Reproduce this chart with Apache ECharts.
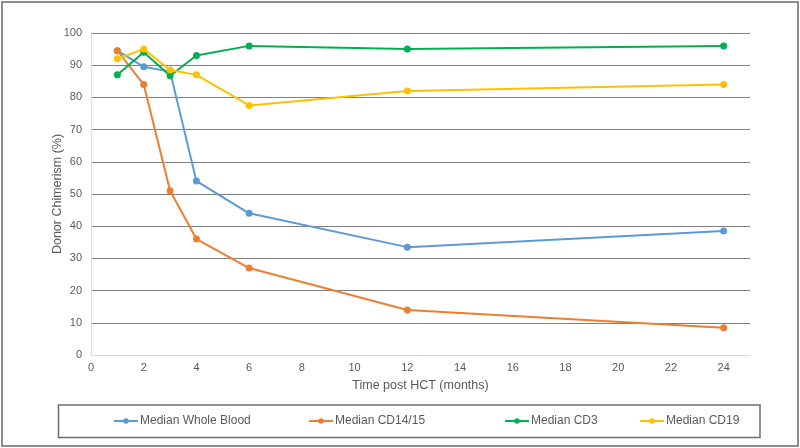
<!DOCTYPE html>
<html>
<head>
<meta charset="utf-8">
<script src="https://cdn.jsdelivr.net/npm/echarts@6/dist/echarts.min.js"></script>
<style>html,body{margin:0;padding:0;background:#fff}#c{width:800px;height:448px}</style>
</head>
<body>
<div id="c"></div>
<script>
const months = [1, 2, 3, 4, 6, 12, 24];
const seriesNames = ['Median Whole Blood', 'Median CD14/15', 'Median CD3', 'Median CD19'];
const wholeBlood = [94.5, 89.5, 88, 54, 44, 33.5, 38.5];
const cd1415 = [94.5, 84, 51, 36, 27, 14, 8.5];
const cd3 = [87, 94, 86.7, 93, 96, 95, 96];
const cd19 = [92, 95, 88.5, 87, 77.5, 82, 84];
const colors = ['#5B9BD5', '#ED7D31', '#00B050', '#FFC000'];
const legendLefts = [113, 308, 504, 639];

const allValues = [wholeBlood, cd1415, cd3, cd19];
const font = 'Liberation Sans, Arial, sans-serif';
const chart = echarts.init(document.getElementById('c'));
chart.setOption({
  animation: false,
  textStyle: { fontFamily: font },
  grid: { left: 91, right: 50, top: 33, bottom: 93, containLabel: false },
  xAxis: {
    type: 'value', min: 0, max: 25, interval: 2,
    name: 'Time post HCT (months)', nameLocation: 'middle', nameGap: 24,
    nameTextStyle: { fontSize: 12.5, color: '#595959', fontFamily: font },
    axisLine: { show: true, lineStyle: { color: '#d9d9d9', width: 1 } },
    axisTick: { show: false },
    axisLabel: { color: '#595959', fontSize: 11, margin: 7, showMaxLabel: false, fontFamily: font },
    splitLine: { show: false }
  },
  yAxis: {
    type: 'value', min: 0, max: 100, interval: 10,
    name: 'Donor Chimerism (%)', nameLocation: 'middle', nameGap: 27, nameMoveOverlap: false,
    nameTextStyle: { fontSize: 12.5, color: '#595959', fontFamily: font },
    axisLine: { show: true, lineStyle: { color: '#d9d9d9', width: 1 } },
    axisTick: { show: false },
    axisLabel: { color: '#595959', fontSize: 11, margin: 9, fontFamily: font },
    splitLine: { show: true, lineStyle: { color: '#7f7f7f', width: 1 } }
  },
  legend: seriesNames.map((n, i) => ({
    data: [n], left: legendLefts[i], top: 415, itemWidth: 24, itemHeight: 7, itemGap: 0,
    textStyle: { fontSize: 12, color: '#595959', fontFamily: font, padding: [0, 0, 0, -3] },
    padding: 0
  })),
  graphic: [
    { type: 'rect', shape: { x: 2, y: 2, width: 796, height: 444 }, style: { fill: 'none', stroke: '#8c8c8c', lineWidth: 2 }, silent: true },
    { type: 'rect', shape: { x: 58.5, y: 405, width: 701.5, height: 32.5 }, style: { fill: 'none', stroke: '#6e6e6e', lineWidth: 1.5 }, silent: true }
  ],
  series: seriesNames.map((n, i) => ({
    name: n, type: 'line',
    data: months.map((m, j) => [m, allValues[i][j]]),
    symbol: 'circle', symbolSize: 7, showSymbol: true,
    lineStyle: { color: colors[i], width: 2 },
    itemStyle: { color: colors[i] },
    z: 2 + i
  }))
});
</script>
</body>
</html>
